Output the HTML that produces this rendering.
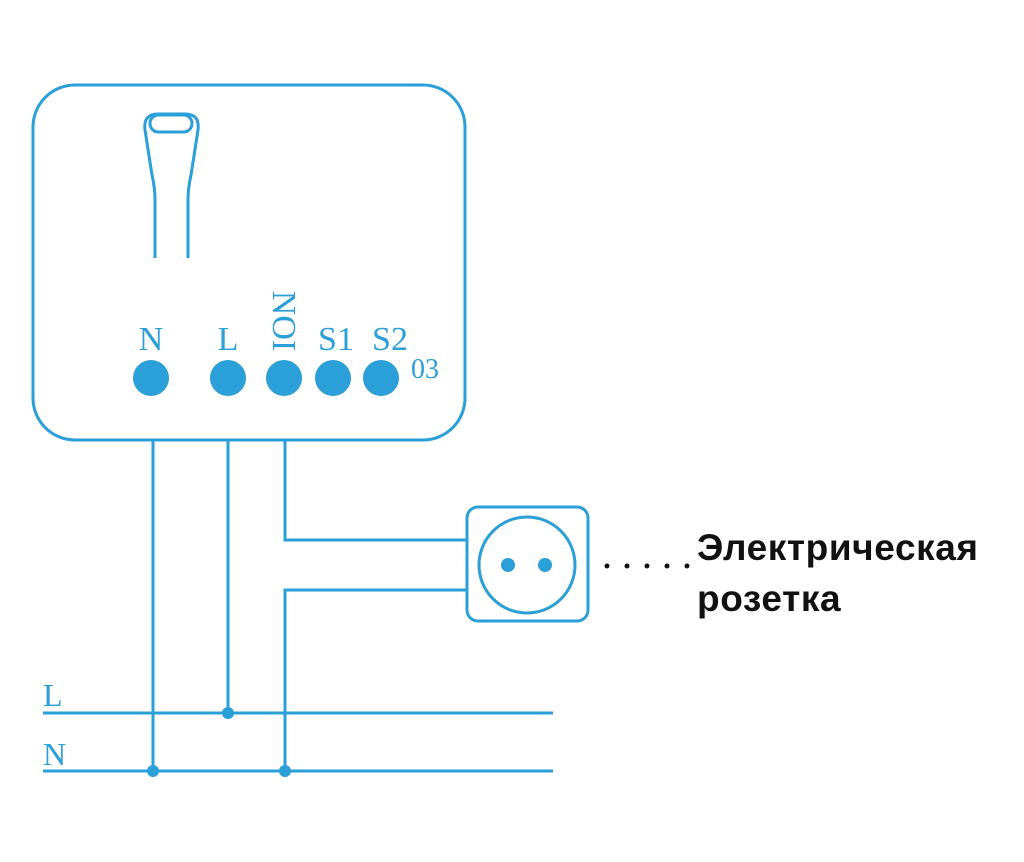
<!DOCTYPE html>
<html><head><meta charset="utf-8"><style>
html,body{margin:0;padding:0;background:#fff;}
svg{display:block}
</style></head><body>
<svg width="1024" height="862" viewBox="0 0 1024 862" xmlns="http://www.w3.org/2000/svg">
<g fill="none" stroke="#2a9fd8" stroke-width="3">
  <rect x="33" y="85" width="432" height="355" rx="42"/>
  <!-- antenna -->
  <path d="M155,258 L155,200 Q155,188 152,175 L145,130 Q143,114 158,114 L185,114 Q200,114 198,130 L191,175 Q188,188 188,200 L188,258"/>
  <rect x="150" y="115" width="42" height="17" rx="8.5"/>
  <!-- wires -->
  <line x1="153" y1="440" x2="153" y2="771"/>
  <line x1="228" y1="440" x2="228" y2="713"/>
  <polyline points="285,440 285,540 467,540"/>
  <polyline points="467,590 285,590 285,771"/>
  <line x1="43" y1="713" x2="553" y2="713"/>
  <line x1="43" y1="771" x2="553" y2="771"/>
  <!-- socket -->
  <rect x="467" y="507" width="121" height="114" rx="11"/>
  <circle cx="527" cy="565" r="48"/>
</g>
<g fill="#2a9fd8">
  <circle cx="151" cy="378" r="18"/>
  <circle cx="228" cy="378" r="18"/>
  <circle cx="284" cy="378" r="18"/>
  <circle cx="333" cy="378" r="18"/>
  <circle cx="381" cy="378" r="18"/>
  <circle cx="228" cy="713" r="6"/>
  <circle cx="153" cy="771" r="6"/>
  <circle cx="285" cy="771" r="6"/>
  <circle cx="508" cy="565" r="7"/>
  <circle cx="545" cy="565" r="7"/>
</g>
<g fill="#2a9fd8" font-family="'Liberation Serif', serif" font-size="34">
  <text x="151" y="350" text-anchor="middle">N</text>
  <text x="228" y="350" text-anchor="middle">L</text>
  <text x="336" y="350" text-anchor="middle">S1</text>
  <text x="390" y="350" text-anchor="middle">S2</text>
  <text transform="translate(273,321) rotate(90)" text-anchor="middle">NOI</text>
  <text x="411" y="378" font-size="28">03</text>
  <text x="43" y="706" font-size="32">L</text>
  <text x="43" y="765" font-size="32">N</text>
</g>
<g fill="#111">
  <circle cx="607" cy="566" r="2.5"/>
  <circle cx="627" cy="566" r="2.5"/>
  <circle cx="647" cy="566" r="2.5"/>
  <circle cx="667" cy="566" r="2.5"/>
  <circle cx="687" cy="566" r="2.5"/>
</g>
<g fill="#111" font-family="'Liberation Sans', 'DejaVu Sans', sans-serif" font-size="37" font-weight="bold" letter-spacing="0.6">
  <text x="697" y="560">Электрическая</text>
  <text x="697" y="611">розетка</text>
</g>
</svg>
</body></html>
